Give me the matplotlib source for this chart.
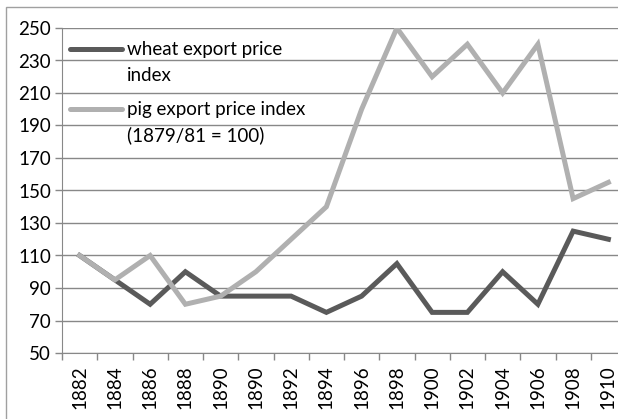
import matplotlib
matplotlib.use('Agg')
import matplotlib.pyplot as plt
from matplotlib.patches import Rectangle
import numpy as np

plt.rcParams['font.family'] = ['Lato', 'DejaVu Sans']

# data (category axis, 1890 appears twice in the original)
years = ['1882', '1884', '1886', '1888', '1890', '1890', '1892', '1894',
         '1896', '1898', '1900', '1902', '1904', '1906', '1908', '1910']
wheat = [110, 95, 80, 100, 85, 85, 85, 75, 85, 105, 75, 75, 100, 80, 125, 120]
pig = [110, 95, 110, 80, 85, 100, 120, 140, 200, 250, 220, 240, 210, 240, 145, 155]
wheat_label = ['wheat export price', 'index']
pig_label = ['pig export price index', '(1879/81 = 100)']
yticks = list(range(50, 251, 20))

wheat_col = '#5a5a5a'
pig_col = '#b0b0b0'
grid_col = '#888888'
fs = 13.5

fig = plt.figure(figsize=(6.18, 4.19), dpi=100)
# outer chart border (cut off at right / bottom like the original)
fig.patches.append(Rectangle((6 / 618, -0.1), 1.2, (419 - 7) / 419 + 0.1,
                             transform=fig.transFigure, fill=False,
                             edgecolor='#a0a0a0', linewidth=1.0))

ax = fig.add_axes([62 / 618, (419 - 353) / 419, 564 / 618, 325 / 419])
x = np.arange(len(years))

ax.plot(x, wheat, color=wheat_col, lw=3.6, solid_joinstyle='miter', zorder=3)
ax.plot(x, pig, color=pig_col, lw=3.6, solid_joinstyle='miter', zorder=4)

ax.set_ylim(50, 250)
ax.set_xlim(-0.5, len(years) - 0.5)
ax.set_yticks(yticks)
ax.set_yticklabels([str(v) for v in yticks], fontsize=fs)
ax.yaxis.grid(True, color=grid_col, lw=1.0)
ax.set_axisbelow(True)

ax.set_xticks(x)
ax.set_xticklabels(years, rotation=90, fontsize=fs)
ax.set_xticks(np.arange(-0.5, len(years)), minor=True)
ax.tick_params(axis='x', which='major', length=0, pad=9)
ax.tick_params(axis='x', which='minor', length=5, color=grid_col, width=1)
ax.tick_params(axis='y', length=5, color=grid_col, width=1, pad=3)

for s in ['top', 'right']:
    ax.spines[s].set_visible(False)
ax.spines['left'].set_color(grid_col)
ax.spines['bottom'].set_color(grid_col)

# legend drawn in axes coordinates
def px(xp, yp):
    return (xp - 62) / 564, (353 - yp) / 325

for col, lines, y0 in [(wheat_col, wheat_label, 49), (pig_col, pig_label, 109)]:
    xa, ya = px(70, y0)
    xb, _ = px(122, y0)
    ax.plot([xa, xb], [ya, ya], transform=ax.transAxes, color=col, lw=3.6,
            solid_capstyle='round', clip_on=False, zorder=5)
    for i, t in enumerate(lines):
        xt, yt = px(127, y0 + 26.5 * i)
        ax.text(xt, yt, t, transform=ax.transAxes, fontsize=fs,
                va='center', ha='left', zorder=5)

fig.savefig('out.png', dpi=100)
